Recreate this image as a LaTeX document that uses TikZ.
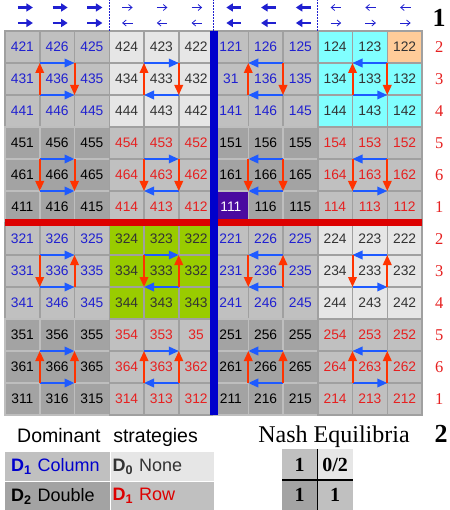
\documentclass[tikz,border=0pt]{standalone}
\usepackage{fontspec}
\setmainfont{Liberation Serif}
\setsansfont{Liberation Sans}
\usetikzlibrary{arrows.meta,positioning,calc}
\definecolor{cmid}{HTML}{C0C0C0}
\definecolor{clight}{HTML}{E6E6E6}
\definecolor{cdark}{HTML}{A3A3A3}
\definecolor{ccyan}{HTML}{80FFFF}
\definecolor{corange}{HTML}{FFCC99}
\definecolor{cgreen}{HTML}{99CC00}
\definecolor{cpurple}{HTML}{4A0AA0}
\definecolor{cline}{HTML}{A0A0A0}
\definecolor{clinelt}{HTML}{BEBEBE}
\definecolor{tblue}{HTML}{2020D0}
\definecolor{tred}{HTML}{E62020}
\definecolor{tgray}{HTML}{333333}
\definecolor{ablue}{HTML}{1E5AFF}
\definecolor{ared}{HTML}{FF3300}
\definecolor{barblue}{HTML}{0000CC}
\definecolor{barred}{HTML}{DD0000}

\begin{document}
\begin{tikzpicture}[x=1pt, y=-1pt,
  cell/.style={draw=cline, line width=1.5pt, minimum width=34.75pt,
               minimum height=32pt, inner sep=0pt, outer sep=0pt,
               font=\sffamily\fontsize{13.8}{15}\selectfont},
  domcol/.style={fill=cmid, text=tblue},
  domnone/.style={fill=clight, text=tgray},
  domdbl/.style={fill=cdark, draw=clinelt, text=black},
  domrow/.style={fill=cmid, text=tred},
  cyanblk/.style={fill=ccyan, text=tgray},
  greenblk/.style={fill=cgreen, text=tgray},
  blk-0-0/.style=domcol, blk-0-1/.style=domnone,
  blk-0-2/.style=domcol, blk-0-3/.style=cyanblk,
  blk-1-0/.style=domdbl, blk-1-1/.style=domrow,
  blk-1-2/.style=domdbl, blk-1-3/.style=domrow,
  blk-2-0/.style=domcol, blk-2-1/.style=greenblk,
  blk-2-2/.style=domcol, blk-2-3/.style=domnone,
  blk-3-0/.style=domdbl, blk-3-1/.style=domrow,
  blk-3-2/.style=domdbl, blk-3-3/.style=domrow,
  lbl122/.style={fill=corange},
  lbl111/.style={fill=cpurple, text=white},
  harr/.style={line width=2pt, draw=ablue, >={Triangle[length=10pt,width=8.5pt]}},
  varr/.style={line width=2pt, draw=ared, >={Triangle[length=10pt,width=8.5pt]}},
  topbold/.style={line width=2.5pt, draw=tblue, >={Triangle[length=6.5pt,width=8pt]}},
  topthin/.style={line width=0.8pt, draw=tblue, >={Straight Barb[length=3.5pt,width=6pt]}},
  tipR/.style={->}, tipL/.style={<-}, tipU/.style={->}, tipD/.style={<-},
  topsep/.style={draw=tblue, line width=0.6pt, dash pattern=on 1.5pt off 1.5pt},
  rowlab/.style={text=tred, inner sep=0pt, font=\fontsize{16.5}{18}\selectfont},
  bignum/.style={inner sep=0pt, font=\bfseries\fontsize{26}{28}\selectfont},
  legcell/.style={minimum height=29pt, inner ysep=0pt, align=left,
                  font=\sffamily\fontsize{18}{20}\selectfont},
  nashcell/.style={minimum width=35pt, minimum height=30.5pt, inner sep=0pt,
                   font=\bfseries\fontsize{20}{22}\selectfont}]
\useasboundingbox (0,0) rectangle (449,510);
% payoff cells
\foreach \rowlist [count=\r] in {
  {421,426,425,424,423,422,121,126,125,124,123,122},
  {431,436,435,434,433,432,31,136,135,134,133,132},
  {441,446,445,444,443,442,141,146,145,144,143,142},
  {451,456,455,454,453,452,151,156,155,154,153,152},
  {461,466,465,464,463,462,161,166,165,164,163,162},
  {411,416,415,414,413,412,111,116,115,114,113,112},
  {321,326,325,324,323,322,221,226,225,224,223,222},
  {331,336,335,334,333,332,231,236,235,234,233,232},
  {341,346,345,344,343,343,241,246,245,244,243,242},
  {351,356,355,354,353,35,251,256,255,254,253,252},
  {361,366,365,364,363,362,261,266,265,264,263,262},
  {311,316,315,314,313,312,211,216,215,214,213,212}}{
  \foreach \lab [count=\c] in \rowlist {
    \pgfmathtruncatemacro\rb{(\r-1)/3}
    \pgfmathtruncatemacro\cb{(\c-1)/3}
    \node[cell, blk-\rb-\cb, lbl\lab/.try] (c-\r-\c)
      at ({5+(\c-0.5)*34.75}, {31+(\r-0.5)*32}) {\lab};
  }
}
% cycles round the centre cells, and the arrows on top
\foreach \cb/\ht/\hb/\ta/\tl in {0/R/R/topbold/15, 1/R/L/topthin/10.5,
                                 2/L/L/topbold/15, 3/L/R/topthin/10.5}{
  \foreach \rb/\vl/\vr in {0/U/D, 1/D/D, 2/D/U, 3/U/U}{
    \pgfmathtruncatemacro\mr{3*\rb+2}
    \pgfmathtruncatemacro\mc{3*\cb+2}
    \draw[harr, tip\ht] (c-\mr-\mc.north west) -- (c-\mr-\mc.north east);
    \draw[harr, tip\hb] (c-\mr-\mc.south west) -- (c-\mr-\mc.south east);
    \draw[varr, tip\vl] (c-\mr-\mc.south west) -- (c-\mr-\mc.north west);
    \draw[varr, tip\vr] (c-\mr-\mc.south east) -- (c-\mr-\mc.north east);
  }
  \foreach \k in {1,2,3}{
    \pgfmathtruncatemacro\cc{3*\cb+\k}
    \draw[\ta, tip\ht] ([shift={(-4.5,-23.5)}]c-1-\cc.north) -- ++(\tl,0);
    \draw[\ta, tip\hb] ([shift={(-4.5,-8)}]c-1-\cc.north) -- ++(\tl,0);
  }
}
\foreach \cc in {3,6,9}
  \draw[topsep] (c-1-\cc.north east) -- ++(0,-31);
% splitting bars
\draw[barred, line width=7pt] (c-6-1.south west) -- (c-6-12.south east);
\draw[barblue, line width=8pt] (c-1-6.north east) -- (c-12-6.south east);
% row numbers
\foreach \n [count=\r] in {2,3,4,5,6,1,2,3,4,5,6,1}
  \node[rowlab, right=13pt of c-\r-12] (rl-\r) {\n};
\node[bignum, anchor=base] (one) at (439,27) {1};
\node[bignum, anchor=base] (two) at (441,442) {2};
% legend
\node[anchor=base west, inner sep=0pt, font=\sffamily\fontsize{19.5}{22}\selectfont]
  (domtitle) at (17,442) {Dominant\hspace{0.65em}strategies};
\node[legcell, fill=cmid, text=barblue, text width=93pt, inner xsep=6pt,
      anchor=north west] (legcol) at (5,452)
  {\textbf{D\textsubscript{1}} Column};
\node[legcell, fill=clight, text=tgray, text width=99pt, inner xsep=2pt,
      right=0pt of legcol] (legnone) {\textbf{D\textsubscript{0}} None};
\node[legcell, fill=cdark, text=black, text width=93pt, inner xsep=6pt,
      below=0pt of legcol] (legdbl) {\textbf{D\textsubscript{2}} Double};
\node[legcell, fill=cmid, text=barred, text width=99pt, inner xsep=2pt,
      right=0pt of legdbl] (legrow) {\textbf{D\textsubscript{1}} Row};
% Nash equilibria
\node[anchor=base, inner sep=0pt, font=\fontsize{24}{28}\selectfont]
  (nashtitle) at (334,442) {Nash Equilibria};
\node[nashcell, fill=cmid, anchor=north west] (n11) at (282,449) {1};
\node[nashcell, fill=clight, right=0pt of n11] (n12) {0/2};
\node[nashcell, fill=cdark, below=0pt of n11] (n21) {1};
\node[nashcell, fill=cmid, right=0pt of n21] (n22) {1};
\draw[line width=1.8pt] (n11.north east) -- (n21.south east);
\draw[line width=1.8pt] (n11.south west) -- (n12.south east);
\end{tikzpicture}
\end{document}
